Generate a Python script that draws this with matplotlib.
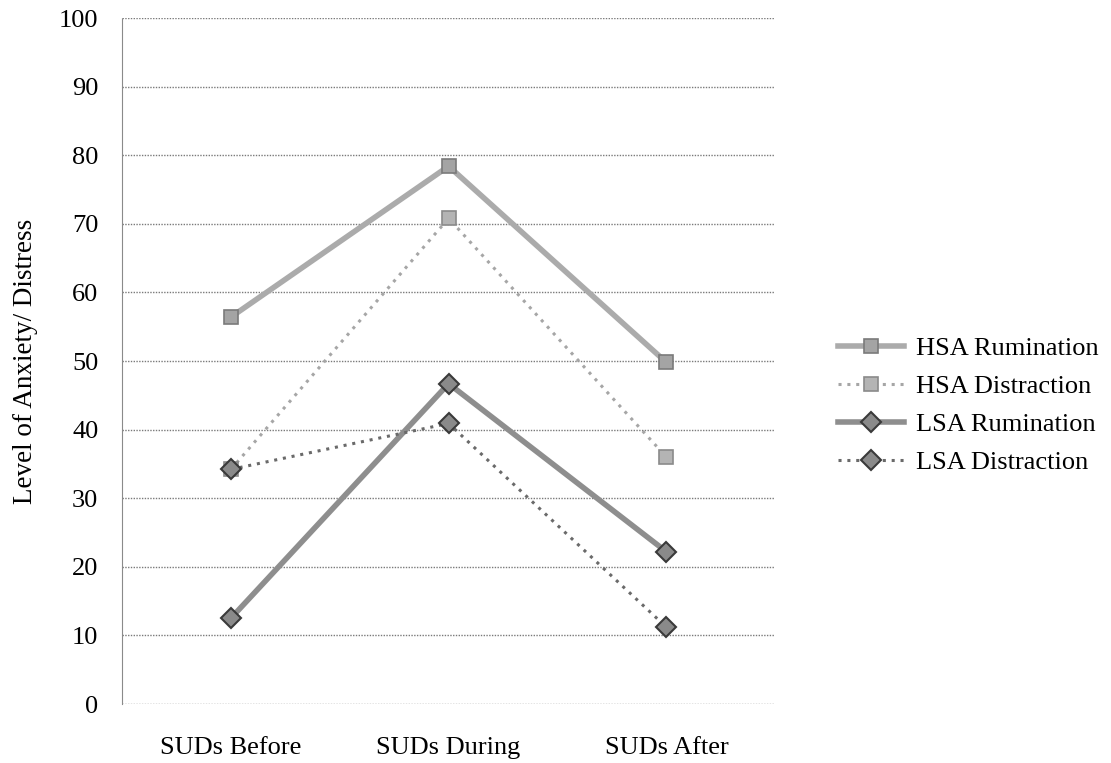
import matplotlib.pyplot as plt

plt.rcParams['font.family'] = ['Liberation Serif', 'DejaVu Serif']

categories = ['SUDs Before', 'SUDs During', 'SUDs After']
hsa_rumination = [56.4, 78.4, 49.8]
hsa_distraction = [34.2, 70.8, 36.0]
lsa_rumination = [12.5, 46.7, 22.2]
lsa_distraction = [34.2, 40.9, 11.2]
yticks = list(range(0, 101, 10))

fig = plt.figure(figsize=(11.11, 7.63), dpi=100)
ax = fig.add_axes([0.1098, 0.0773, 0.588, 0.8991])

x = range(len(categories))
dots = (0, (1, 1.9))

ax.plot(x, hsa_rumination, color='#ababab', lw=4, marker='s', ms=10,
        mfc='#a4a4a4', mec='#7a7a7a', mew=1.2, label='HSA Rumination', zorder=3)
ax.plot(x, hsa_distraction, color='#a6a6a6', lw=2.2, ls=dots, marker='s', ms=10,
        mfc='#b4b4b4', mec='#8a8a8a', mew=1.2, label='HSA Distraction', zorder=3)
ax.plot(x, lsa_rumination, color='#8e8e8e', lw=4, marker='D', ms=10,
        mfc='#8a8a8a', mec='#3a3a3a', mew=1.5, label='LSA Rumination', zorder=4)
ax.plot(x, lsa_distraction, color='#6a6a6a', lw=2.2, ls=dots, marker='D', ms=10,
        mfc='#8a8a8a', mec='#3a3a3a', mew=1.5, label='LSA Distraction', zorder=4)

ax.set_xlim(-0.5, 2.5)
ax.set_ylim(0, 100)
ax.set_yticks(yticks)
ax.set_xticks(list(x))
ax.set_xticklabels(categories)
ax.tick_params(axis='both', length=0, labelsize=19)
ax.tick_params(axis='y', pad=17)
ax.tick_params(axis='x', pad=24)

ax.grid(axis='y', color='#7a7a7a', lw=1, ls=(0, (1, 1)))
ax.set_axisbelow(True)
for s in ['top', 'right', 'bottom']:
    ax.spines[s].set_visible(False)
ax.spines['left'].set_color('#8a8a8a')
ax.spines['left'].set_linestyle((0, (1, 1)))

ax.set_ylabel('Level of Anxiety/ Distress', fontsize=19.5)
ax.yaxis.set_label_coords(-0.128, 0.5)

ax.legend(loc='center left', bbox_to_anchor=(1.06, 0.435), frameon=False,
          fontsize=19, handlelength=2.5, handletextpad=0.45, labelspacing=0.55)

fig.savefig('out.png', dpi=100)
